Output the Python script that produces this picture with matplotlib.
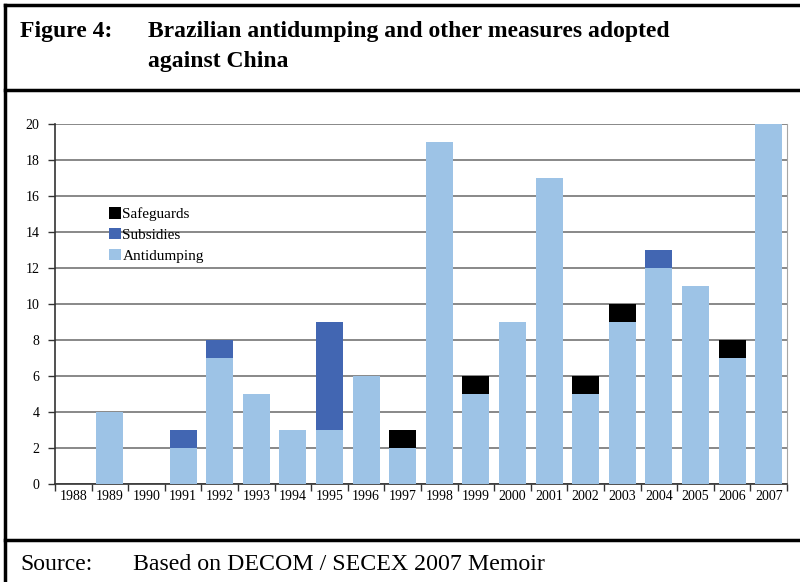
import matplotlib.pyplot as plt
from matplotlib.lines import Line2D
import numpy as np

years = [str(y) for y in range(1988, 2008)]
antidumping = [0, 4, 0, 2, 7, 5, 3, 3, 6, 2, 19, 5, 9, 17, 5, 9, 12, 11, 7, 20]
subsidies = [0, 0, 0, 1, 1, 0, 0, 6, 0, 0, 0, 0, 0, 0, 0, 0, 1, 0, 0, 0]
safeguards = [0, 0, 0, 0, 0, 0, 0, 0, 0, 1, 0, 1, 0, 0, 1, 1, 0, 0, 1, 0]

plt.rcParams['font.family'] = ['Liberation Serif', 'DejaVu Serif']

fig = plt.figure(figsize=(8, 5.82), dpi=100)
ax = fig.add_axes([0.06875, 0.1684, 0.915, 0.6186])

x = np.arange(len(years))
ad = np.array(antidumping)
sb = np.array(subsidies)
sg = np.array(safeguards)
w = 0.74
ax.bar(x, ad, w, color='#9dc3e6', label='Antidumping', zorder=3)
ax.bar(x, sb, w, bottom=ad, color='#4266b2', label='Subsidies', zorder=3)
ax.bar(x, sg, w, bottom=ad + sb, color='#000000', label='Safeguards', zorder=3)

ax.set_xlim(-0.5, len(years) - 0.5)
ax.set_ylim(0, 20)
ax.set_yticks(range(0, 21, 2))
ax.yaxis.grid(True, color='#7f7f7f', linewidth=1.3, zorder=1)
ax.set_axisbelow(True)

ax.set_xticks(np.arange(-0.5, len(years), 1))
ax.set_xticklabels([])
ax.set_xticks(x, minor=True)
ax.set_xticklabels(years, minor=True)
ax.tick_params(axis='x', which='major', direction='out', length=5, width=1, color='#333333')
ax.tick_params(axis='x', which='minor', length=0, pad=4, labelsize=10)
ax.tick_params(axis='y', direction='out', length=5, width=1, color='#333333', labelsize=10, pad=6)

ax.spines['top'].set_visible(False)
ax.spines['right'].set_color('#a6a6a6')
ax.spines['left'].set_color('#333333')
ax.spines['bottom'].set_color('#333333')
ax.spines['left'].set_linewidth(1.2)
ax.spines['bottom'].set_linewidth(1.2)

handles, labels = ax.get_legend_handles_labels()
ax.legend(handles[::-1], labels[::-1], loc='upper left', bbox_to_anchor=(0.066, 0.785),
          frameon=False, fontsize=11, handlelength=0.75, handleheight=0.75,
          handletextpad=0.1, labelspacing=0.45, borderaxespad=0)

# frame and header/footer rules
lw = 2.5
fig.add_artist(Line2D([5 / 800, 5 / 800], [0, 1 - 5 / 582], color='black', lw=lw, transform=fig.transFigure))
fig.add_artist(Line2D([5 / 800, 1], [1 - 5 / 582, 1 - 5 / 582], color='black', lw=lw, transform=fig.transFigure))
fig.add_artist(Line2D([5 / 800, 1], [1 - 90 / 582, 1 - 90 / 582], color='black', lw=lw, transform=fig.transFigure))
fig.add_artist(Line2D([5 / 800, 1], [1 - 540 / 582, 1 - 540 / 582], color='black', lw=lw, transform=fig.transFigure))

fig.text(20 / 800, 1 - 32 / 582, 'Figure 4:', fontsize=17, fontweight='bold', va='center', ha='left')
fig.text(148 / 800, 1 - 32 / 582, 'Brazilian antidumping and other measures adopted',
         fontsize=17, fontweight='bold', va='center', ha='left')
fig.text(148 / 800, 1 - 62 / 582, 'against China', fontsize=17, fontweight='bold', va='center', ha='left')
fig.text(20 / 800, 1 - 564 / 582, 'Source:', fontsize=17, va='center', ha='left')
fig.text(133 / 800, 1 - 564 / 582, 'Based on DECOM / SECEX 2007 Memoir', fontsize=17.2, va='center', ha='left')

fig.savefig('out.png', dpi=100)
